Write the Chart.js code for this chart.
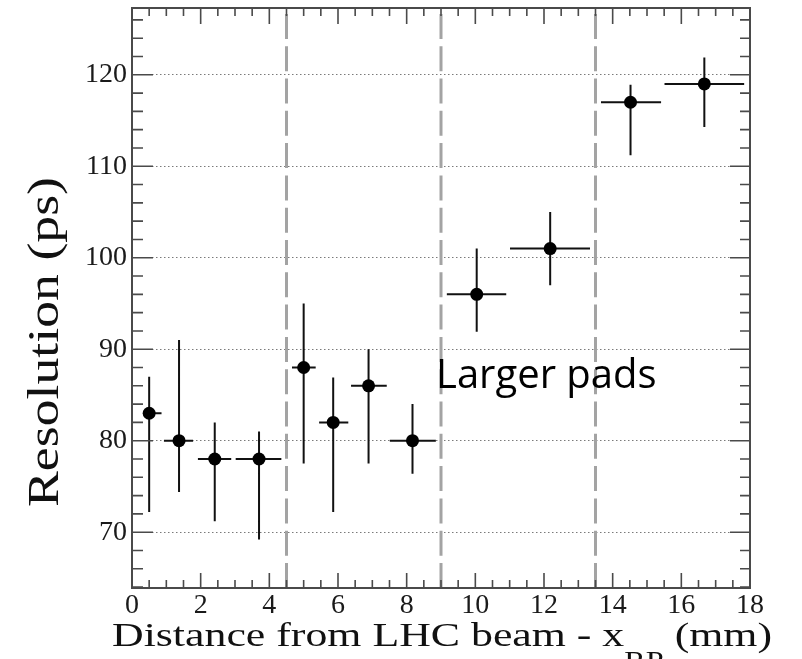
<!DOCTYPE html>
<html>
<head>
	<meta charset="utf-8">
	<title>Timing resolution vs distance from the LHC beam</title>
	<style>
		body { margin: 0; background: #fff; }
		#wrap { position: relative; width: 802px; height: 659px; }
	</style>
</head>
<body>
	<div id="wrap"><canvas id="resChart"></canvas></div>

	<script src="https://cdn.jsdelivr.net/npm/chart.js@4.4.1/dist/chart.umd.min.js"></script>
	<script type="text/javascript">
		// pad centres (mm) and measured resolution (ps)
		const xCenter = [0.50, 1.37, 2.41, 3.70, 5.00, 5.86, 6.89, 8.17, 10.04, 12.18, 14.52, 16.67];
		const resolution = [83, 80, 78, 78, 88, 82, 86, 80, 96, 101, 117, 119];
		// horizontal extent of each pad (mm)
		const xLow = [0.32, 0.93, 1.92, 3.02, 4.66, 5.45, 6.38, 7.51, 9.17, 11.01, 13.66, 15.51];
		const xHigh = [0.86, 1.78, 2.89, 4.35, 5.35, 6.30, 7.42, 8.85, 10.90, 13.34, 15.41, 17.83];
		// resolution uncertainty band (ps)
		const resLow = [72.2, 74.4, 71.2, 69.2, 77.5, 72.2, 77.5, 76.4, 91.9, 97.0, 111.2, 114.3];
		const resHigh = [87.0, 91.0, 82.0, 81.0, 95.0, 86.9, 90.0, 84.0, 101.0, 105.0, 118.9, 121.9];

		// boundaries between pad rows
		const padBoundaries = [4.5, 9, 13.5];

		const xTicks = [0, 2, 4, 6, 8, 10, 12, 14, 16, 18];
		const yTicks = [70, 80, 90, 100, 110, 120];
		const X_MIN = 0, X_MAX = 18, Y_MIN = 63.9, Y_MAX = 127.3;

		const SERIF = '"Liberation Serif", "Times New Roman", serif';

		// error bars, drawn under the markers
		const errorBars = {
			id: 'errorBars',
			beforeDatasetsDraw(chart) {
				const { ctx, scales: { x, y } } = chart;
				ctx.save();
				ctx.strokeStyle = '#111';
				ctx.lineWidth = 2;
				ctx.beginPath();
				for (let i = 0; i < xCenter.length; i++) {
					const px = x.getPixelForValue(xCenter[i]);
					const py = y.getPixelForValue(resolution[i]);
					ctx.moveTo(x.getPixelForValue(xLow[i]), py);
					ctx.lineTo(x.getPixelForValue(xHigh[i]), py);
					ctx.moveTo(px, y.getPixelForValue(resLow[i]));
					ctx.lineTo(px, y.getPixelForValue(resHigh[i]));
				}
				ctx.stroke();
				ctx.restore();
			}
		};

		// frame with inward ticks on all four sides, titles and the label
		const frame = {
			id: 'frame',
			afterDraw(chart) {
				const { ctx, chartArea: a, scales: { x, y } } = chart;
				ctx.save();
				ctx.strokeStyle = '#4a4a4a';
				ctx.lineWidth = 1.6;
				ctx.beginPath();
				for (let v = X_MIN; v <= X_MAX + 1e-9; v += 0.5) {
					const px = x.getPixelForValue(v);
					const major = Math.abs(v % 2) < 1e-9;
					const lb = major ? 15 : 8, lt = major ? 16 : 8;
					ctx.moveTo(px, a.bottom); ctx.lineTo(px, a.bottom - lb);
					ctx.moveTo(px, a.top); ctx.lineTo(px, a.top + lt);
				}
				for (let v = 64; v <= Y_MAX; v += 2) {
					const py = y.getPixelForValue(v);
					const major = v % 10 === 0;
					const ll = major ? 21 : 11, lr = major ? 20 : 10;
					ctx.moveTo(a.left, py); ctx.lineTo(a.left + ll, py);
					ctx.moveTo(a.right, py); ctx.lineTo(a.right - lr, py);
				}
				ctx.stroke();
				ctx.lineWidth = 2;
				ctx.strokeRect(a.left, a.top, a.right - a.left, a.bottom - a.top);

				ctx.fillStyle = '#111';
				ctx.textBaseline = 'alphabetic';

				// x title with subscript
				const main1 = 'Distance from LHC beam - x', sub = 'RP', main2 = ' (mm)';
				ctx.font = '34px ' + SERIF;
				const w1 = ctx.measureText(main1).width;
				const w3 = ctx.measureText(main2).width;
				ctx.font = '25px ' + SERIF;
				const w2 = ctx.measureText(sub).width;
				const span = 660, sx = span / (w1 + w2 + w3);
				ctx.save();
				ctx.translate((a.left + a.right) / 2 - span / 2 + 1, 646);
				ctx.scale(sx, 1);
				ctx.textAlign = 'left';
				ctx.font = '34px ' + SERIF;
				ctx.fillText(main1, 0, 0);
				ctx.fillText(main2, w1 + w2, 0);
				ctx.font = '25px ' + SERIF;
				ctx.fillText(sub, w1, 23);
				ctx.restore();

				// y title, rotated
				ctx.save();
				ctx.font = '44px ' + SERIF;
				const yt = 'Resolution (ps)';
				const sy = 330 / ctx.measureText(yt).width;
				ctx.translate(58, 342);
				ctx.rotate(-Math.PI / 2);
				ctx.scale(sy, 1);
				ctx.textAlign = 'center';
				ctx.fillText(yt, 0, 0);
				ctx.restore();

				// annotation
				ctx.font = '40px "Open Sans", sans-serif';
				ctx.fillStyle = '#000';
				ctx.textAlign = 'left';
				ctx.fillText('Larger pads', 436, 388);
				ctx.restore();
			}
		};

		const boundaryLines = padBoundaries.map(b => ({
			type: 'line',
			data: [{ x: b, y: Y_MIN }, { x: b, y: Y_MAX }],
			showLine: true,
			borderColor: '#a3a3a3',
			borderWidth: 3,
			borderDash: [25, 7.3],
			pointRadius: 0,
			fill: false
		}));

		const ctx = document.getElementById('resChart').getContext('2d');
		const chart = new Chart(ctx, {
			type: 'scatter',
			data: {
				datasets: [
					...boundaryLines,
					{
						label: 'Resolution',
						data: xCenter.map((v, i) => ({ x: v, y: resolution[i] })),
						pointRadius: 6.5,
						pointBackgroundColor: '#000',
						pointBorderWidth: 0,
						showLine: false
					}
				]
			},
			options: {
				responsive: true,
				maintainAspectRatio: false,
				devicePixelRatio: 1,
				animation: false,
				layout: { padding: { left: 0, top: 8, right: 52, bottom: 0 } },
				plugins: {
					legend: { display: false },
					tooltip: { enabled: false }
				},
				scales: {
					x: {
						type: 'linear',
						min: X_MIN,
						max: X_MAX,
						afterBuildTicks: s => { s.ticks = xTicks.map(v => ({ value: v })); },
						afterFit: s => { s.height = 71; s.paddingLeft = 0; s.paddingRight = 0; },
						grid: { display: false, drawTicks: false },
						border: { display: false },
						ticks: {
							padding: 1,
							maxRotation: 0,
							autoSkip: false,
							color: '#1a1a1a',
							font: { family: SERIF, size: 28 }
						}
					},
					y: {
						type: 'linear',
						min: Y_MIN,
						max: Y_MAX,
						afterBuildTicks: s => { s.ticks = yTicks.map(v => ({ value: v })); },
						afterFit: s => { s.width = 132; s.paddingTop = 0; s.paddingBottom = 0; },
						grid: { color: '#7a7a7a', lineWidth: 1, drawTicks: false },
						border: { display: false, dash: [1.5, 2.5] },
						ticks: {
							padding: 5,
							autoSkip: false,
							color: '#1a1a1a',
							font: { family: SERIF, size: 28 }
						}
					}
				}
			},
			plugins: [errorBars, frame]
		});
	</script>
</body>
</html>
